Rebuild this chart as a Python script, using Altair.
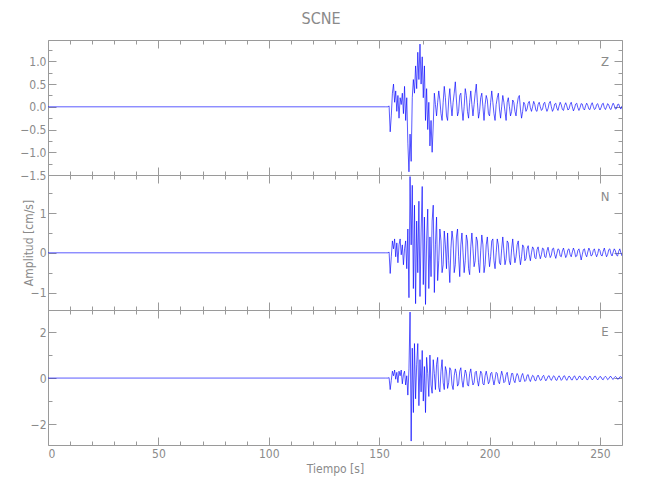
import altair as alt
import pandas as pd

# ---------------- data ----------------
T_START = 153.0   # first sample of the event window [s]
DT = 0.5          # sample spacing [s]
PRE_EVENT = 0.0   # trace is flat from t=0 until the event window

Z_VALUES = [
    0, 0, 0, 0.02, -0.55, -0.2, 0.3, 0.5, 0.1, 0.35,
    -0.1, 0.25, -0.25, 0.2, 0.05, 0.3, -0.15, 0.45, -0.3, 0.2,
    -0.8, -1.43, -0.6, -1.2, 0.2, 0.6, 0.3, 0.9, 0.4, 1.2,
    0.6, 1.38, 0.5, 1.1, 0.2, 0.9, -0.3, 0.4, -0.5, 0.1,
    -0.86, -0.3, -1.0, -0.4,
    0.3, 0.05, -0.2, 0.1, 0.35, 0.15, -0.15, -0.3, 0.1, 0.45,
    0.2, -0.2, -0.3, 0.15, 0.4, 0.05, -0.2, 0.1, 0.3, 0.55,
    0.15, -0.2, -0.1, 0.25, 0.3, -0.05, -0.3, 0.0, 0.4, 0.25,
    -0.1, -0.25, 0.1, 0.35, 0.05, -0.2, 0.05, 0.3, 0.5, 0.1,
    -0.25, -0.1, 0.2, 0.3, 0.0, -0.3, 0.05, 0.25, 0.15, -0.15,
    -0.2, 0.1, 0.35, 0.1, -0.15, -0.3, 0.05, 0.2, 0.3, -0.05,
    -0.25, 0.0, 0.25, 0.1, -0.1, -0.3, 0.1, 0.2, 0.0, -0.2,
    -0.1, 0.15, 0.1, -0.1, -0.2, 0.05, 0.2, 0.25, -0.05, -0.25,
    -0.1, 0.1, 0.05, -0.1, -0.05, 0.08, 0.12, -0.02, -0.1, 0.0,
    0.12, 0.05, -0.08, -0.1, 0.05, 0.1, 0.0, -0.08, -0.05, 0.07,
    0.1, -0.02, -0.1, -0.04, 0.08, 0.12, 0.0, -0.1, -0.05, 0.06,
    0.08, -0.03, -0.08, 0.02, 0.1, 0.04, -0.06, -0.08, 0.03, 0.09,
    0.02, -0.07, -0.05, 0.05, 0.1, 0.0, -0.09, -0.03, 0.06, 0.08,
    -0.02, -0.08, -0.02, 0.07, 0.06, -0.04, -0.07, 0.02, 0.08, 0.03,
    -0.05, -0.06, 0.04, 0.09, 0.01, -0.06, -0.04, 0.05, 0.07, -0.01,
    -0.07, -0.02, 0.06, 0.08, -0.02, -0.06, 0.0, 0.07, 0.04, -0.04,
    -0.06, 0.02, 0.08, 0.03, -0.05, -0.04, 0.05, 0.06, -0.01, -0.05,
    0.02,
]

N_VALUES = [
    0, 0, 0, 0.02, -0.52, -0.1, 0.3, 0.1, 0.35, -0.1,
    0.25, -0.25, 0.2, 0.35, -0.05, 0.2, -0.3, 0.1, 0.3, -0.4,
    0.6, -1.13, 1.92, 0.2, 1.7, -0.9, 1.2, -1.28, 0.8, -0.5,
    1.3, -1.1, 0.5, 1.67, -0.8, 0.9, -1.3, 0.3, 1.1, -0.9,
    0.4, -0.6, 0.8, 1.2, -1.0, 0.2, 0.9, -0.7, -0.2, 0.6,
    0.3, -0.5, -0.3, 0.55, 0.2, -0.4, 0.5, -0.2, -0.75, 0.1,
    0.55, 0.3, -0.5, -0.3, 0.4, 0.6, -0.1, -0.6, 0.2, 0.5,
    0.0, -0.5, -0.2, 0.45, 0.3, -0.4, -0.55, 0.15, 0.5, 0.1,
    -0.35, -0.2, 0.4, 0.3, -0.25, -0.5, 0.05, 0.45, 0.2, -0.5,
    -0.3, 0.2, 0.4, 0.0, -0.35, -0.1, 0.3, 0.35, -0.2, -0.4,
    0.0, 0.35, 0.2, -0.25, -0.3, 0.1, 0.4, 0.05, -0.3, -0.15,
    0.3, 0.25, -0.2, -0.3, 0.1, 0.35, 0.0, -0.25, -0.1, 0.2,
    0.3, -0.05, -0.3, -0.1, 0.2, 0.15, -0.2, -0.15, 0.1, 0.18,
    -0.05, -0.2, 0.0, 0.15, 0.1, -0.12, -0.15, 0.08, 0.15, -0.02,
    -0.15, -0.05, 0.12, 0.1, -0.1, -0.12, 0.05, 0.14, 0.0, -0.12,
    -0.06, 0.1, 0.12, -0.04, -0.14, -0.02, 0.1, 0.08, -0.08, -0.1,
    0.05, 0.12, 0.0, -0.12, -0.06, 0.08, 0.1, -0.04, -0.1, 0.02,
    0.12, 0.04, -0.1, -0.08, 0.06, 0.1, -0.02, -0.18, -0.05, 0.08,
    0.1, -0.04, -0.1, 0.02, 0.12, 0.05, -0.08, -0.06, 0.06, 0.1,
    -0.02, -0.1, -0.02, 0.1, 0.06, -0.06, -0.08, 0.04, 0.12, 0.0,
    -0.1, -0.04, 0.08, 0.1, -0.03, -0.08, 0.02, 0.1, 0.05, -0.06,
    -0.08, 0.04, 0.1, 0.0, -0.08,
]

E_VALUES = [
    0, 0, 0, 0.02, -0.5, -0.1, 0.3, 0.1, 0.35, -0.05,
    0.25, -0.2, 0.3, 0.1, 0.35, -0.25, 0.15, 0.3, -0.3, 0.1,
    -0.74, 0.4, 2.87, -2.74, 1.3, -1.5, 1.5, -0.9, 0.6, 1.5,
    -1.2, 0.8, -0.6, 1.2, -1.0, 0.5, -1.5, 0.9, 0.2, -0.8,
    1.0, -0.3, -0.66, 0.8, 0.2, -0.5, 0.6, 0.9, -0.4, -0.6,
    0.3, 0.8, -0.2, -0.5, 0.5, 0.3, -0.45, -0.2, 0.45, 0.35,
    -0.3, -0.5, 0.1, 0.4, 0.2, -0.35, -0.25, 0.3, 0.45, -0.1,
    -0.4, 0.0, 0.35, 0.2, -0.3, -0.35, 0.2, 0.4, 0.0, -0.3,
    -0.2, 0.25, 0.3, -0.1, -0.35, 0.0, 0.3, 0.2, -0.25, -0.3,
    0.1, 0.3, 0.05, -0.25, -0.15, 0.2, 0.25, -0.05, -0.3, -0.05,
    0.25, 0.2, -0.15, -0.25, 0.05, 0.3, 0.1, -0.2, -0.15, 0.15,
    0.25, -0.05, -0.3, -0.1, 0.2, 0.2, -0.1, -0.2, 0.05, 0.2,
    0.1, -0.15, -0.15, 0.1, 0.2, 0.0, -0.15, -0.1, 0.12, 0.15,
    -0.05, -0.15, 0.0, 0.12, 0.08, -0.1, -0.12, 0.05, 0.13, 0.02,
    -0.1, -0.08, 0.07, 0.12, -0.02, -0.12, -0.04, 0.08, 0.1, -0.03,
    -0.1, 0.0, 0.1, 0.06, -0.08, -0.1, 0.03, 0.1, 0.02, -0.1,
    -0.05, 0.08, 0.1, -0.03, -0.1, 0.0, 0.09, 0.05, -0.07, -0.08,
    0.04, 0.1, 0.0, -0.09, -0.04, 0.07, 0.08, -0.03, -0.08, 0.0,
    0.08, 0.05, -0.06, -0.07, 0.04, 0.09, 0.0, -0.08, -0.03, 0.07,
    0.08, -0.02, -0.08, 0.0, 0.07, 0.05, -0.05, -0.07, 0.03, 0.08,
    0.02, -0.07, -0.03, 0.06, 0.07, -0.02, -0.06, 0.02, 0.07, 0.03,
    -0.05, -0.03, 0.05, 0.06, 0.0,
]

COMPONENTS = ["Z", "N", "E"]
Y_DOMAINS = {"Z": [-1.5, 1.47], "N": [-1.44, 1.96], "E": [-2.91, 2.96]}
Y_MAJOR = {"Z": [-1.5, -1.0, -0.5, 0.0, 0.5, 1.0], "N": [-1, 0, 1], "E": [-2, 0, 2]}
Y_MINOR = {"Z": [-1.25, -0.75, -0.25, 0.25, 0.75, 1.25], "N": [-0.5, 0.5, 1.5], "E": [-1, 1]}
Y_FORMAT = {"Z": ".1f", "N": "d", "E": "d"}
X_DOMAIN = [0, 260]
X_MAJOR = [0, 50, 100, 150, 200, 250]
X_MINOR = [10, 20, 30, 40, 60, 70, 80, 90, 110, 120, 130, 140, 160, 170, 180,
           190, 210, 220, 230, 240, 260]

TITLE = "SCNE"
Y_TITLE = "Amplitud [cm/s]"
X_TITLE = "Tiempo [s]"

# ---------------- styling ----------------
FONT = "Liberation Sans Narrow, DejaVu Sans Condensed, Roboto Condensed, sans-serif"
GREY = "#8a8a8a"
FRAME = "#9a9a9a"
BLUE = "#0000ff"
W, H = 574, 135
MAJ, MIN = 8, 4


def make_df(values):
    times = [0.0] + [T_START + DT * i for i in range(len(values))]
    vals = [PRE_EVENT] + list(values)
    return pd.DataFrame({"t": times, "v": vals})


def panel(comp, values, is_bottom, y_title):
    df = make_df(values)
    xs = alt.Scale(domain=X_DOMAIN, nice=False, zero=False)
    ys = alt.Scale(domain=Y_DOMAINS[comp], nice=False, zero=False)
    base = alt.Chart(df)

    x_main = dict(orient="bottom", values=X_MAJOR, offset=-MAJ, tickSize=MAJ,
                  labels=is_bottom, labelPadding=3, format="d",
                  title=X_TITLE if is_bottom else None, titlePadding=4)
    y_main = dict(orient="left", values=Y_MAJOR[comp], offset=-MAJ, tickSize=MAJ,
                  labelPadding=2, format=Y_FORMAT[comp],
                  title=y_title if y_title else None)
    if y_title:
        y_main.update(titleX=-21, titleY=H / 2, titleAngle=270)

    trace = base.mark_line(color=BLUE, strokeWidth=0.65, clip=True).encode(
        x=alt.X("t:Q", scale=xs, axis=alt.Axis(**x_main)),
        y=alt.Y("v:Q", scale=ys, axis=alt.Axis(**y_main)),
    )
    minor_lb = base.mark_line(strokeOpacity=0, clip=True).encode(
        x=alt.X("t:Q", scale=xs, axis=alt.Axis(orient="bottom", values=X_MINOR, offset=-MIN,
                                               tickSize=MIN, labels=False, title=None)),
        y=alt.Y("v:Q", scale=ys, axis=alt.Axis(orient="left", values=Y_MINOR[comp], offset=-MIN,
                                               tickSize=MIN, labels=False, title=None)),
    )
    major_tr = base.mark_line(strokeOpacity=0, clip=True).encode(
        x=alt.X("t:Q", scale=xs, axis=alt.Axis(orient="top", values=X_MAJOR, offset=-MAJ,
                                               tickSize=MAJ, labels=False, title=None)),
        y=alt.Y("v:Q", scale=ys, axis=alt.Axis(orient="right", values=Y_MAJOR[comp], offset=-MAJ,
                                               tickSize=MAJ, labels=False, title=None)),
    )
    minor_tr = base.mark_line(strokeOpacity=0, clip=True).encode(
        x=alt.X("t:Q", scale=xs, axis=alt.Axis(orient="top", values=X_MINOR, offset=-MIN,
                                               tickSize=MIN, labels=False, title=None)),
        y=alt.Y("v:Q", scale=ys, axis=alt.Axis(orient="right", values=Y_MINOR[comp], offset=-MIN,
                                               tickSize=MIN, labels=False, title=None)),
    )
    letter = alt.Chart(pd.DataFrame({"c": [comp]})).mark_text(
        font=FONT, fontSize=13, color=GREY, align="center", baseline="middle"
    ).encode(text="c:N", x=alt.value(557), y=alt.value(22))

    return alt.layer(trace, minor_lb, major_tr, minor_tr, letter).resolve_axis(
        x="independent", y="independent"
    ).properties(width=W, height=H)


panels = [
    panel("Z", Z_VALUES, False, None),
    panel("N", N_VALUES, False, Y_TITLE),
    panel("E", E_VALUES, True, None),
]

chart = alt.vconcat(*panels, spacing=0, bounds="flush").properties(
    title=alt.TitleParams(TITLE, anchor="middle", font=FONT, fontSize=16,
                          fontWeight="normal", color=GREY, offset=12),
    autosize=alt.AutoSizeParams(type="pad"),
    padding={"left": 11, "top": 3, "right": 5, "bottom": 5},
).configure_view(stroke=FRAME, strokeWidth=1).configure_axis(
    domain=False, grid=False, tickColor=FRAME, tickWidth=1,
    labelFont=FONT, labelFontSize=12, labelColor=GREY,
    titleFont=FONT, titleFontSize=12, titleColor=GREY, titleFontWeight="normal",
).configure_concat(spacing=0)

chart.save("out.html", embed_options={"renderer": "svg", "actions": False})
